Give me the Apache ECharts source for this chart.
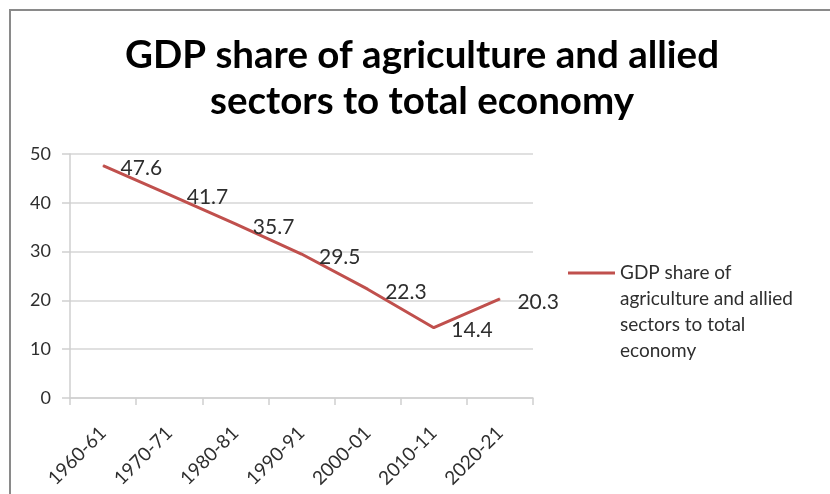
<!DOCTYPE html>
<html>
<head>
<meta charset="utf-8">
<script src="https://cdn.jsdelivr.net/npm/echarts@6/dist/echarts.min.js"></script>
<style>
  html, body { margin: 0; padding: 0; background: #fff; }
  #chart { width: 830px; height: 494px; }
</style>
</head>
<body>
<div id="chart"></div>
<script>
const categories = ['1960-61', '1970-71', '1980-81', '1990-91', '2000-01', '2010-11', '2020-21'];
const gdpShare = [47.6, 41.7, 35.7, 29.5, 22.3, 14.4, 20.3];
const seriesName = 'GDP share of agriculture and allied sectors to total economy';
const legendLines = ['GDP share of', 'agriculture and allied', 'sectors to total', 'economy'];
const yTicks = { min: 0, max: 50, interval: 10 };

const chart = echarts.init(document.getElementById('chart'));
const font = 'Lato, "Open Sans", "Liberation Sans", sans-serif';
const textColor = '#2e2e2e';
chart.setOption({
  animation: false,
  backgroundColor: '#ffffff',
  title: {
    text: 'GDP share of agriculture and allied\nsectors to total economy',
    left: 422,
    top: 33,
    textAlign: 'center',
    padding: 0,
    textStyle: { fontFamily: font, fontWeight: 'bold', fontSize: 38.5, lineHeight: 46, color: '#000000' }
  },
  graphic: [{
    type: 'rect',
    shape: { x: 10, y: 10, width: 840, height: 500 },
    style: { fill: 'none', stroke: '#8a8a8a', lineWidth: 2 },
    silent: true
  }],
  legend: {
    left: 563,
    top: 177,
    icon: 'rect',
    itemWidth: 47,
    itemHeight: 3,
    itemGap: 0,
    data: [seriesName],
    formatter: function () {
      // blank lines above balance the lines below so the marker sits beside the first line
      return '\n\n\n' + legendLines.join('\n');
    },
    textStyle: { fontFamily: font, fontSize: 19, lineHeight: 26, color: textColor }
  },
  grid: { left: 70, right: 297, top: 154, bottom: 96 },
  xAxis: {
    type: 'category',
    data: categories,
    boundaryGap: true,
    axisLine: { lineStyle: { color: '#cfcfcf', width: 1.5 } },
    axisTick: { show: true, length: 7, lineStyle: { color: '#cfcfcf', width: 1.5 } },
    axisLabel: { rotate: 45, margin: 32, interval: 0, fontFamily: font, fontSize: 19, color: textColor }
  },
  yAxis: {
    type: 'value',
    min: yTicks.min,
    max: yTicks.max,
    interval: yTicks.interval,
    axisLine: { show: true, lineStyle: { color: '#cfcfcf', width: 1.5 } },
    axisTick: { show: true, length: 8, lineStyle: { color: '#cfcfcf', width: 1.5 } },
    axisLabel: { margin: 19, fontFamily: font, fontSize: 18, color: textColor },
    splitLine: { show: true, lineStyle: { color: '#d6d6d6', width: 1.5 } }
  },
  series: [{
    name: seriesName,
    type: 'line',
    data: gdpShare,
    symbol: 'circle',
    symbolSize: 1,
    showSymbol: true,
    lineStyle: { color: '#c0504d', width: 3 },
    itemStyle: { color: '#c0504d' },
    label: {
      show: true,
      position: 'right',
      distance: 17,
      offset: [0, 3],
      fontFamily: font,
      fontSize: 21,
      color: textColor
    }
  }]
});
</script>
</body>
</html>
